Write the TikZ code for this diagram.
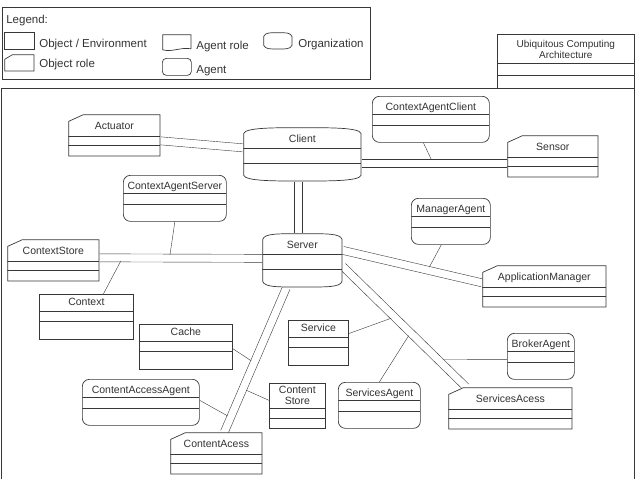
\documentclass[tikz,border=0pt]{standalone}
\usepackage{fontspec}
\setmainfont{Liberation Sans}
\usepackage{xcolor}
\usetikzlibrary{calc}

\definecolor{linegray}{gray}{0.22}
\definecolor{txtgray}{gray}{0.2}

\pgfdeclarelayer{joins}
\pgfdeclarelayer{links}
\pgfsetlayers{joins,links,main}

% compartment lines, measured from the top of the box
\newcommand{\compartments}[2]{%
  \draw[linegray, line width=0.7pt]
    ([shift={(0,#1)}]path picture bounding box.north west) -- ([shift={(0,#1)}]path picture bounding box.north east)
    ([shift={(0,#2)}]path picture bounding box.north west) -- ([shift={(0,#2)}]path picture bounding box.north east);}
% box with a cut top left corner
\newcommand{\roleoutline}[2]{%
  \filldraw[linegray, fill=white, line width=0.7pt]
    ([shift={(0.35,#2)}]path picture bounding box.north west)
    -- ([shift={(#1,0.35)}]path picture bounding box.north west)
    -- ([shift={(-0.35,0.35)}]path picture bounding box.north east)
    -- ([shift={(-0.35,-0.35)}]path picture bounding box.south east)
    -- ([shift={(0.35,-0.35)}]path picture bounding box.south west) -- cycle;}
% box with bulging top and bottom
\newcommand{\orgoutline}[2]{%
  \filldraw[linegray, fill=white, line width=0.7pt]
    ([shift={(0.35,#1)}]path picture bounding box.north west)
      .. controls +(2,-#1) and +(-#2,0) .. ([shift={(0,0.35)}]path picture bounding box.north)
      .. controls +(#2,0) and +(-2,-#1) .. ([shift={(-0.35,#1)}]path picture bounding box.north east)
    -- ([shift={(-0.35,-#1)}]path picture bounding box.south east)
      .. controls +(-2,#1) and +(#2,0) .. ([shift={(0,-0.35)}]path picture bounding box.south)
      .. controls +(-#2,0) and +(2,#1) .. ([shift={(0.35,-#1)}]path picture bounding box.south west)
    -- cycle;}
% box with a wavy bottom
\newcommand{\waveoutline}{%
  \filldraw[linegray, fill=white, line width=0.7pt]
    ([shift={(0.35,0.35)}]path picture bounding box.north west)
    -- ([shift={(-0.35,0.35)}]path picture bounding box.north east)
    -- ([shift={(-0.35,-3.5)}]path picture bounding box.south east)
    .. controls +(-10,-2) and +(10,2.5) .. ([shift={(0.35,-2.5)}]path picture bounding box.south west)
    -- cycle;}
% two parallel lines between two points
\newcommand{\duallink}[2]{%
  \draw[white, line width=6.5pt] (#1) -- (#2);
  \draw[link] ($(#1)!4pt!90:(#2)$) -- ($(#2)!4pt!-90:(#1)$)
              ($(#1)!4pt!-90:(#2)$) -- ($(#2)!4pt!90:(#1)$);}

\begin{document}
\begin{tikzpicture}[
  x=1pt, y=-1pt,
  line width=0.7pt,
  every node/.style={text=txtgray},
  diagfont/.style={font=\fontsize{10.5}{11}\selectfont},
  legendfont/.style={font=\fontsize{11.5}{13}\selectfont, anchor=base west, inner sep=0pt},
  classbox/.style={diagfont, anchor=north west, inner sep=0pt, minimum width=#1},
  objbox/.style={classbox=#1, draw=linegray, fill=white, text height=11.5pt, text depth=33pt,
    path picture={\compartments{16.5}{27}}},
  rolebox/.style={classbox=#1, text height=15pt, text depth=27pt,
    path picture={\roleoutline{15}{7}\compartments{21.5}{30.5}}},
  agentbox/.style={classbox=#1, draw=linegray, fill=white, rounded corners=7pt,
    text height=14pt, text depth=32pt, path picture={\compartments{18}{29}}},
  orgbox/.style={classbox=#1, text height=15pt, text depth=39pt,
    path picture={\orgoutline{6}{25}\compartments{21}{35.5}}},
  icon/.style={anchor=north west, inner sep=0pt, minimum width=#1, minimum height=17pt},
  link/.style={draw=linegray}
]
  \useasboundingbox (0,0) rectangle (636,479);

  % legend
  \node[draw=linegray, anchor=north west, inner sep=0pt,
    minimum width=368pt, minimum height=72pt] (legend) at (2,7) {};
  \node[legendfont] (legendtitle) at (6,23) {Legend:};
  \node[icon=30pt, draw=linegray] (iconobj) at (4,32) {};
  \node[legendfont] (txtobj) at (39,47.5) {Object / Environment};
  \node[icon=30pt, path picture={\roleoutline{8}{5}}] (iconrole) at (4,54) {};
  \node[legendfont] (txtrole) at (39,67) {Object role};
  \node[icon=29pt, minimum height=18pt, path picture={\waveoutline}] (iconagentrole) at (162,34) {};
  \node[legendfont] (txtagentrole) at (196,49) {Agent role};
  \node[icon=29pt, draw=linegray, rounded corners=4pt] (iconagent) at (162,58) {};
  \node[legendfont] (txtagent) at (196,73) {Agent};
  \node[icon=29pt, path picture={\orgoutline{4}{8}}] (iconorg) at (263,32) {};
  \node[legendfont] (txtorg) at (298,47.5) {Organization};

  % frame and title
  \draw[linegray] (1,479) -- (1,88) -- (634,88) -- (634,479);
  \node[classbox=137pt, draw=linegray, font=\fontsize{10}{10}\selectfont,
    text height=13.6pt, text depth=40.4pt, path picture={\compartments{29}{41}}]
    (titlebox) at (497,34)
    {\begin{tabular}[t]{@{}c@{}}Ubiquitous Computing\\Architecture\end{tabular}};

  % classes
  \node[rolebox=92pt] (actuator) at (68,114) {Actuator};
  \node[orgbox=118pt] (client) at (243,127) {Client};
  \node[agentbox=117pt] (ctxagentclient) at (372,96) {ContextAgentClient};
  \node[rolebox=91pt] (sensor) at (507,135) {Sensor};
  \node[agentbox=103pt] (ctxagentserver) at (123,175) {ContextAgentServer};
  \node[rolebox=92pt] (ctxstore) at (7,239) {ContextStore};
  \node[orgbox=80pt] (server) at (262,233) {Server};
  \node[agentbox=79pt] (manageragent) at (411,198) {ManagerAgent};
  \node[rolebox=124pt] (appmanager) at (482,265) {ApplicationManager};
  \node[objbox=94pt] (context) at (39,294) {Context};
  \node[objbox=60pt] (service) at (288,320) {Service};
  \node[objbox=93pt] (cache) at (139,324) {Cache};
  \node[agentbox=67pt] (brokeragent) at (507,333) {BrokerAgent};
  \node[agentbox=117pt] (ctaccessagent) at (82,379) {ContentAccessAgent};
  \node[agentbox=82pt] (servicesagent) at (338,382) {ServicesAgent};
  \node[objbox=56pt, text height=10pt, text depth=35pt, path picture={\compartments{25}{35}}]
    (contentstore) at (269,383) {\begin{tabular}[t]{@{}c@{}}Content\\Store\end{tabular}};
  \node[rolebox=124pt] (servicesacess) at (448,387) {ServicesAcess};
  \node[rolebox=92pt] (contentacess) at (170,432) {ContentAcess};

  % ends of the double links
  \coordinate (actuator-r) at ([shift={(0,5.5)}]actuator.east);
  \coordinate (client-l) at ([shift={(0,-6.5)}]client.west);
  \coordinate (client-r) at ([shift={(0,8.5)}]client.east);
  \coordinate (sensor-l) at ([shift={(0,6.5)}]sensor.west);
  \coordinate (client-b) at ([shift={(-4.5,0)}]client.south);
  \coordinate (server-t) at ([shift={(-4.5,0)}]server.north);
  \coordinate (ctxstore-r) at ([shift={(0,-2.5)}]ctxstore.east);
  \coordinate (server-l) at ([shift={(0,-2)}]server.west);
  \coordinate (server-r1) at ([shift={(0,-10)}]server.east);
  \coordinate (appmanager-l) at ([shift={(0,-3.5)}]appmanager.west);
  \coordinate (server-r2) at ([shift={(0,6)}]server.east);
  \coordinate (servicesacess-t) at ([shift={(18,0)}]servicesacess.north west);
  \coordinate (server-b) at ([shift={(-16,0)}]server.south);
  \coordinate (contentacess-t) at ([shift={(8,0)}]contentacess.north);

  % double links
  \begin{pgfonlayer}{links}
    \duallink{actuator-r}{client-l}
    \duallink{client-r}{sensor-l}
    \duallink{client-b}{server-t}
    \duallink{ctxstore-r}{server-l}
    \duallink{server-r1}{appmanager-l}
    \duallink{server-r2}{servicesacess-t}
    \duallink{server-b}{contentacess-t}
  \end{pgfonlayer}

  % single links
  \begin{pgfonlayer}{joins}
    \draw[link] ([shift={(-7.5,0)}]ctxagentclient.south) -- ($(client-r)!0.49!(sensor-l)$);
    \draw[link] (ctxagentserver.south) -- ($(ctxstore-r)!0.43!(server-l)$);
    \draw[link] ([shift={(17,0)}]context.north) -- ($(ctxstore-r)!0.14!(server-l)$);
    \draw[link] ([shift={(-9.5,0)}]manageragent.south) -- ($(server-r1)!0.61!(appmanager-l)$);
    \draw[link] ([shift={(0,-9)}]service.east) -- ($(server-r2)!0.42!(servicesacess-t)$);
    \draw[link] (servicesagent.north) -- ($(server-r2)!0.55!(servicesacess-t)$);
    \draw[link] ([shift={(0,3)}]brokeragent.west) -- ($(server-r2)!0.77!(servicesacess-t)$);
    \draw[link] ([shift={(0,2)}]cache.east) -- ($(server-b)!0.52!(contentacess-t)$);
    \draw[link] ([shift={(0,-5.5)}]contentstore.west) -- ($(server-b)!0.7!(contentacess-t)$);
    \draw[link] ([shift={(0,-2)}]ctaccessagent.east) -- ($(server-b)!0.9!(contentacess-t)$);
  \end{pgfonlayer}
\end{tikzpicture}
\end{document}
